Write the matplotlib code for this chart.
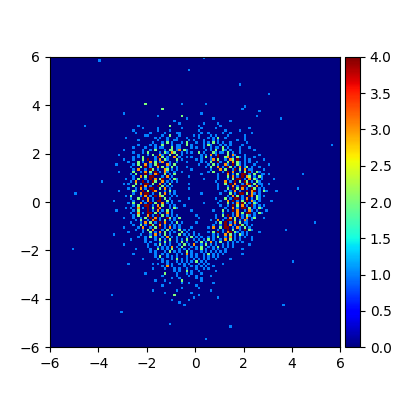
import numpy as np
import matplotlib
matplotlib.use('Agg')
import matplotlib.pyplot as plt
from mpl_toolkits.axes_grid1 import make_axes_locatable

# counts, '.' is an empty bin
# first string is bin row 19 from the top, first char is bin column 24
first_row = 19
first_col = 24
n_bins = 120
cells = [
    "...............2..............1.........1",
    "........................................................1",
    "......................2................................1",
    "..............................................................1",
    "......1...............................1",
    "....................1.........2..............................1",
    "................................1..........1",
    "...........................1......................1",
    ".............................1.........1.....1",
    "............1............2...........1........1",
    "..............1.....1.........1.......1.....1.............1",
    "..........1.........1....1...........1..........1.....1",
    "...........1.....1.....1....11........1..1.....1..1........1",
    "...............11.....1..2...1.....1.1....1.1....1......1",
    ".......1...........1.1..1...1...1....1...1.1.2..1.......1",
    "............1.......1...1..11....1.1...1...1.1.......1..1",
    "..................1...1.2.1...1.2...1..1.1.2.1.1..1......1",
    "............1....1.1..2...1.11..2.1....1.21...1.1.1....1",
    "..........1....1...1.11...2.11....1.1..1..1.11.2.1....1...1",
    "......1.......1..1.2...1.22.13.21.......1.1.2..21.1...1.....1",
    "..........1...1.2....1.21.32..1.1.1..2.1...21.11.2.1..1",
    "....1.......1...1.2..31..2..2.1.......1.1.3.14...2.31...1.....1",
    "..........1.1.2....14.2.1..3.1..1.1...1.2.1..4..23.1.21.1...1",
    "......1...1...2.4..1.3.21...2.1.....1.1...13.2..1.32.4..1.1.....1",
    "........1...2.1..3.2.13..1..1...1.....1.1.2..41..2.3.21.1.1..1",
    "...1......1.2..3.1.24...31.2.........1...1.2.1..31.4.21.1...1.....1",
    ".........1...2.4.1..3.2.1.2.1...1.......1.2..3.1.42.1.3.12.1..1",
    "..........1.3..1.42.1..32.1.1.....1.......1...3.2..14.2.3.11....1",
    "....1.....2..1.3.2.4.1.31..1..1..........1.2...1.4.3..1.2.41.21",
    ".........1.2...4.1.34..2.1.2..........1......1...3.1.2.44.1.2..11.1",
    "..........1..3.2.44...1.3.1......1...........1...2.3.1.4.32.1.21",
    ".......1..1.2..1.4.3.24..1.21..........1.....1...1.2.44.1.3.21.1....1",
    ".........1.3..4.1.42..3.1.1.1...............1...3.1.4.2.42.1.21",
    "......1.1..2.1.44.2..3.1.2.......1...........1..2.4.3..1.34.2.11..1",
    "..........2..4.3.1..4.2.1.1..................1...1.3.1.44.21.3.1",
    "........1..1.3.1.44..2.3.1.......1...........1...2.4.2.3.1.42.1.1",
    "....1.....21..4.2.43...1.2.1....................1.1.3.1..4.34.1.21...1",
    "..........1..3.44.1..2.3.1.1..........1.......1...2.1.44.2.31.1",
    ".......1.2...1.3.1.4.32...1.1....................1.3.2.1..43.21.1",
    ".........1..2.4.3.1..4.2.1.......1..........1...2.1.44.1.3.1.21",
    "..1.......1...1.3.1.44..2.1..1................1..3.4.1.2.4.31.1....1",
    "........1.2..3.1.4.2..3.1.1............1.....1...2.1.3.42.1.21",
    "..........1.2..44.1.3.2..1.1...1..............1..1.4.2.3.1.41.1.1",
    ".......1.1..3.1.4.2.43...1.21...................1..3.1.44.2.1.21",
    "...1......1.2...4.1.3.1.2.1.......1........1...2.1.4.3..1.31.1...1",
    ".........1..3.1.44.2.1..3.1....................1...1.3.2.44.1.21",
    "..........1.2...3.1.4.2.1.1.1.......1.......1..2.4.1.3.1.21.1",
    "......1...1..1.2.4.3.1..42.1.2.......1......1...1.3.2.41.3.12...1",
    "...........1.2..1.34.1.2.1.1..............1..3.1.44.2.1.31.1",
    ".........1...1.3.2.1.4.3..1.2.1.....1.......1.2.4.1.3.2.11",
    "..........1..2.1.42..3.1.1.1.1.............1..1.4.3.1.42.1.1",
    "......1.....1.3..1.2.4.1.3.1.1....1......1.3..2.44.1.31.2.1",
    "...........1..1.2.3...1.2.1..2.1.1...........1.1.4.2..1.4.21",
    "........1.....1..2.1.3.2.1.1..2.1..1.....1.2.4.1.34.21.1.1....1",
    "..1..........1...1.3.1.2.1...2.1.1.1.1.....1.1..3.2.1.21.1",
    "............1..1.2.1..1.3.1.1...1.2.1.1..1.1.2..1.3.1.1.1..1",
    ".........1.....1...1.2.1.2..1.1.2..1.1.1.2.1..1.3.2.1.1....1",
    "...............1.1...1.2.1..1.2.1...1.2.1.3.1.2..1.1.1.1",
    "......1.........1..1.2.1.1...1.2.1.3..1.2.1.1..1.1.1......1",
    "................1...1.1.1.3.1.2...1.1.2..1.1.2.1.1.1",
    "...........1.....1..2.1.1.2..1.1.1..1.2.1..1.1..1......1",
    ".................1.1...1.2.1.1..2.1...1.1.1.1.1.1",
    "..........1........1..1.1...1.1.3.1.1..1.2.1.1.1.......1",
    "...................1.2..1.1.1...1.1.1..1.1.1.1",
    "..............1.....1.1...1.2.1.1..1.1.1.1..1.....1",
    "......................1.1...1.1.1.1.2.1.1",
    "........1.........1.1...1.1..1.1.1...1.1.1.....1",
    "......................1.3.1....1..1.1.1.1..1",
    "..................1....1...1.1..1...1..1.1",
    "...........................1.1..2.1..1......1",
    "...............1.......2....1...1.1...1",
    "......................1.....1....1..1.....1",
    "..........................1..1......1.1",
    "...................1...1......2.......1",
    ".........................1....1..1.........1",
    "......................1.............1",
    "..............................1......1",
    "..................1.........1.............1",
    ".......................1..........1",
    "...........................2.........1",
    "...................................1.........1",
    "..........................1......1",
    ".............................1",
    "...............................1",
]

# bins outside the block above, as bin centres
stray_x = [-3.95, -0.25, 0.35, -4.55, -5.05, -4.95, 3.55, 4.45, 4.05, 3.05, 4.95, 3.65, -3.45, -3.05, 1.45, -1.05, 0.45, 1.85, 5.65, 3.75, -3.85, 4.25]
stray_y = [5.85, 5.45, 5.95, 3.15, -1.95, 0.35, 3.45, 1.15, -2.45, 4.45, -0.85, -4.25, -3.85, -4.55, -5.15, -5.05, -5.65, 4.85, 2.35, -1.15, 0.85, 0.55]
stray_n = [1, 1, 1, 1, 1, 1, 1, 1, 1, 1, 1, 1, 1, 1, 1, 1, 1, 1, 1, 1, 1, 1]

xs = list(stray_x)
ys = list(stray_y)
ws = list(stray_n)
edges = np.linspace(-6, 6, n_bins + 1)
centres = (edges[:-1] + edges[1:]) / 2
for r, row in enumerate(cells):
    for c, ch in enumerate(row):
        if ch != '.':
            xs.append(centres[first_col + c])
            ys.append(centres[n_bins - 1 - (first_row + r)])
            ws.append(int(ch))

fig, ax = plt.subplots(figsize=(4, 4), dpi=100)
counts, xe, ye, im = ax.hist2d(xs, ys, bins=n_bins, range=[[-6, 6], [-6, 6]], weights=ws, cmap='jet', vmin=0, vmax=4)
ax.set_aspect('equal')
ax.set_xticks([-6, -4, -2, 0, 2, 4, 6])
ax.set_yticks([-6, -4, -2, 0, 2, 4, 6])

divider = make_axes_locatable(ax)
cax = divider.append_axes('right', size='5%', pad=0.05)
fig.colorbar(im, cax=cax)

plt.savefig('out.png', dpi=100)
